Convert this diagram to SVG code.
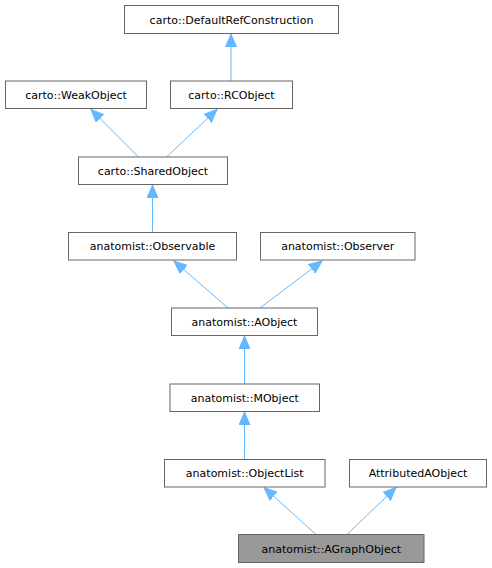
<svg xmlns="http://www.w3.org/2000/svg" width="492" height="568" viewBox="0 0 492 568">
<style>
.n rect{fill:#fff;stroke:#666;stroke-width:1}
.n.cur rect{fill:#999}
.n text{font-family:"DejaVu Sans",sans-serif;font-size:11px;fill:#000;text-anchor:middle}
.e path{fill:none;stroke:#63b8ff;stroke-width:1}
</style>
<defs>
<marker id="ah" markerUnits="userSpaceOnUse" markerWidth="14" markerHeight="12" viewBox="0 -6 14 12" refX="13" refY="0" orient="auto">
<path d="M0,-5.5 L13,0 L0,5.5 Z" fill="#63b8ff" stroke="#63b8ff" stroke-width="1"/>
</marker>
</defs>
<rect width="492" height="568" fill="#fff"/>
<g id="connectors" class="e">
<path d="M231,81 L231,34" marker-end="url(#ah)"/>
<path d="M138.5,157 L91,109.5" marker-end="url(#ah)"/>
<path d="M166.5,157 L217,109.5" marker-end="url(#ah)"/>
<path d="M152.5,232.5 L152.5,185" marker-end="url(#ah)"/>
<path d="M228,308 L174,261" marker-end="url(#ah)"/>
<path d="M260,308 L322,261" marker-end="url(#ah)"/>
<path d="M244.5,384 L244.5,336" marker-end="url(#ah)"/>
<path d="M244.5,459 L244.5,412" marker-end="url(#ah)"/>
<path d="M316,534.5 L264,487.5" marker-end="url(#ah)"/>
<path d="M347,534.5 L396,487.5" marker-end="url(#ah)"/>
</g>
<g id="n_defaultref" class="n"><rect x="124.5" y="5.5" width="214" height="28"/><text x="231.5" y="23.5">carto::DefaultRefConstruction</text></g>
<g id="n_weak" class="n"><rect x="5.5" y="81" width="141" height="27.5"/><text x="76" y="98.5">carto::WeakObject</text></g>
<g id="n_rc" class="n"><rect x="170.5" y="81" width="122" height="27.5"/><text x="231.5" y="98.5">carto::RCObject</text></g>
<g id="n_shared" class="n"><rect x="78.5" y="157" width="149" height="27.5"/><text x="153" y="174.5">carto::SharedObject</text></g>
<g id="n_observable" class="n"><rect x="68.5" y="232.5" width="168" height="27.5"/><text x="152.5" y="250">anatomist::Observable</text></g>
<g id="n_observer" class="n"><rect x="260.5" y="232.5" width="154.5" height="27.5"/><text x="337.75" y="250">anatomist::Observer</text></g>
<g id="n_aobject" class="n"><rect x="171.5" y="308" width="146" height="27.5"/><text x="244.5" y="325.5">anatomist::AObject</text></g>
<g id="n_mobject" class="n"><rect x="170" y="384" width="149.5" height="27.5"/><text x="244.75" y="401.5">anatomist::MObject</text></g>
<g id="n_objectlist" class="n"><rect x="164.5" y="459.5" width="160.5" height="27.5"/><text x="244.75" y="477">anatomist::ObjectList</text></g>
<g id="n_attributed" class="n"><rect x="349.5" y="459.5" width="137" height="27.5"/><text x="418" y="477">AttributedAObject</text></g>
<g id="n_agraph" class="n cur"><rect x="238.5" y="534.5" width="185.5" height="28"/><text x="331.25" y="552.5">anatomist::AGraphObject</text></g>
</svg>
